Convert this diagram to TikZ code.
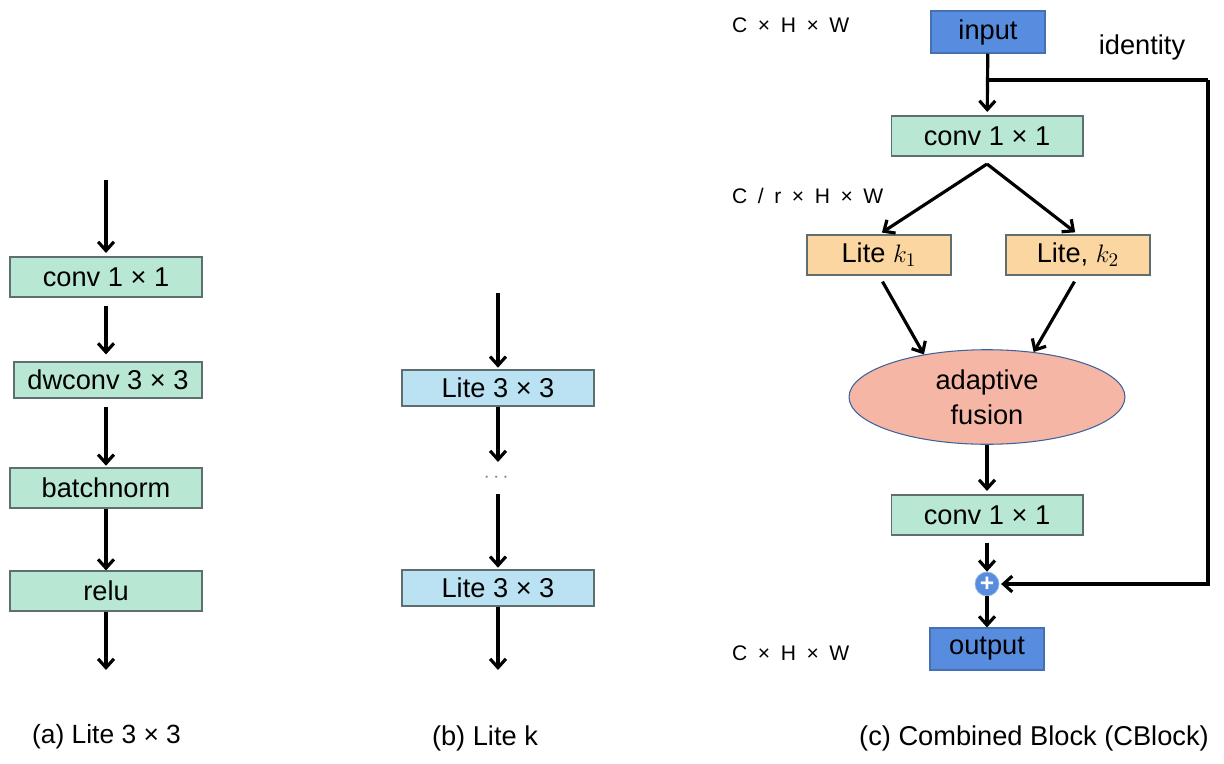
\documentclass[tikz,border=0pt]{standalone}
\usepackage{fontspec}
\setmainfont{Liberation Sans}
\usepackage{amsmath}
\usetikzlibrary{shapes,arrows.meta,positioning}

\definecolor{convgreen}{RGB}{184,232,212}
\definecolor{liteblue}{RGB}{186,226,242}
\definecolor{korange}{RGB}{251,214,160}
\definecolor{ioblue}{RGB}{88,140,222}
\definecolor{fusionred}{RGB}{245,182,166}
\definecolor{boxline}{RGB}{95,110,110}
\newcommand{\gp}{\hspace{0.5em}}

\begin{document}
\begin{tikzpicture}[x=0.02cm,y=-0.02cm,
    >={Straight Barb[length=5pt,width=9pt]},
    flow/.style={->,line width=1.8pt},
    block/.style={draw=boxline,line width=0.6pt,inner sep=0pt,font=\fontsize{15.5}{18}\selectfont},
    convbox/.style={block,fill=convgreen,minimum width=3.84cm,minimum height=0.8cm},
    litebox/.style={block,fill=liteblue,minimum width=3.84cm,minimum height=0.72cm},
    kbox/.style={block,fill=korange,minimum width=2.88cm,minimum height=0.8cm},
    iobox/.style={block,draw=ioblue!80!black,fill=ioblue,minimum width=2.28cm,minimum height=0.84cm},
    dims/.style={anchor=west,font=\fontsize{12}{14}\selectfont},
    caption/.style={font=\fontsize{15.5}{18}\selectfont}]
\useasboundingbox (0,0) rectangle (1224,764);

% (a) Lite 3x3
\coordinate (ain) at (106,180);
\node[convbox] (aconv) at (106,277) {conv 1 × 1};
\node[convbox,minimum width=3.76cm,minimum height=0.72cm] (adw) at (108,380) {dwconv 3 × 3};
\node[convbox] (abn) at (106,488) {batchnorm};
\node[convbox] (arelu) at (106,591) {relu};
\coordinate (aout) at (106,670);
\draw[flow,shorten >=2pt] (ain) -- (aconv);
\draw[flow,shorten <=5pt,shorten >=4pt] (aconv.south) -- (aconv.south |- adw.north);
\draw[flow,shorten <=5pt,shorten >=1pt] (aconv.south |- adw.south) -- (abn.north);
\draw[flow] (abn) -- (arelu);
\draw[flow] (arelu) -- (aout);
\node[caption,font=\fontsize{15}{18}\selectfont,anchor=west] (acap) at (26,737) {(a) Lite 3 × 3};

% (b) Lite k
\coordinate (bin) at (498,293);
\node[litebox] (blite1) at (498,388) {Lite 3 × 3};
\node[text=gray,font=\large] (bdots) at (498,478) {$\cdots$};
\node[litebox] (blite2) at (498,588) {Lite 3 × 3};
\coordinate (bout) at (498,670);
\draw[flow,shorten >=1pt] (bin) -- (blite1);
\draw[flow] (blite1) -- (498,462);
\draw[flow,shorten >=1pt] (498,494) -- (blite2);
\draw[flow] (blite2) -- (bout);
\node[caption] (bcap) at (485,738) {(b) Lite k};

% (c) Combined Block
\node[iobox] (input) at (988,32) {input};
\node[convbox] (cconv1) at (987,136) {conv 1 × 1};
\node[kbox] (lite1) at (879,255) {Lite $k_1$};
\node[kbox] (lite2) at (1078,255) {Lite, $k_2$};
\node[ellipse,draw=ioblue!70!black,line width=0.6pt,fill=fusionred,minimum width=5.52cm,minimum height=1.68cm,
      align=center,font=\fontsize{15.5}{18}\selectfont] (fusion) at (987,397) {adaptive\\[2pt]fusion};
\node[convbox] (cconv2) at (987,515) {conv 1 × 1};
\node[circle,draw=ioblue!60,fill=ioblue,minimum size=0.48cm,inner sep=0pt,text=white,
      font=\fontsize{14}{14}\selectfont\bfseries] (plus) at (987,584) {+};
\node[iobox] (output) at (987,649) {output};
\coordinate (branch) at (987,80);
\coordinate (corner) at (1208,80);
\coordinate (split) at (987,164);

\draw[flow,shorten >=2pt] (input) -- (cconv1);
\draw[line width=1.8pt] (branch) -- (corner);
\draw[flow,shorten >=1pt] (corner) |- (plus);
\draw[flow,shorten >=2pt] (split) -- (lite1.north);
\draw[flow,shorten >=2pt] (split) -- (lite2.north);
\draw[flow,shorten <=4pt] (lite1.south) -- (fusion.146);
\draw[flow,shorten <=4pt] (lite2.south) -- (fusion.44);
\draw[flow,shorten >=2pt] (fusion) -- (cconv2);
\draw[flow,shorten <=4pt] (cconv2) -- (plus);
\draw[flow] (plus) -- (output);

\node[dims] (dim1) at (726,25) {C\gp×\gp H\gp×\gp W};
\node[dims] (dim2) at (726,196) {C\gp/\gp r\gp×\gp H\gp×\gp W};
\node[dims] (dim3) at (726,653) {C\gp×\gp H\gp×\gp W};
\node[font=\fontsize{15.5}{18}\selectfont] (ident) at (1142,47) {identity};
\node[caption,anchor=west] (ccap) at (853,738) {(c) Combined Block (CBlock)};
\end{tikzpicture}
\end{document}
